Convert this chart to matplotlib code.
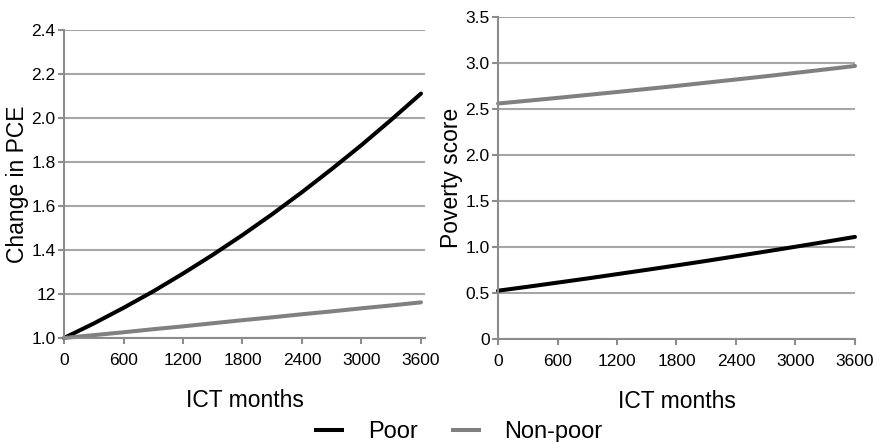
import matplotlib
matplotlib.use("Agg")
import matplotlib.pyplot as plt

plt.rcParams['font.family'] = ['Liberation Sans', 'DejaVu Sans']

months = [0, 300, 600, 900, 1200, 1500, 1800, 2100, 2400, 2700, 3000, 3300, 3600]

pce_poor = [1.0, 1.066, 1.137, 1.212, 1.293, 1.378, 1.468, 1.563, 1.663, 1.768, 1.877, 1.992, 2.111]
pce_nonpoor = [1.0, 1.013, 1.026, 1.04, 1.053, 1.067, 1.081, 1.094, 1.108, 1.121, 1.135, 1.148, 1.162]

pov_poor = [0.525, 0.568, 0.613, 0.658, 0.705, 0.752, 0.800, 0.849, 0.900, 0.951, 1.003, 1.056, 1.110]
pov_nonpoor = [2.56, 2.590, 2.621, 2.653, 2.685, 2.718, 2.751, 2.786, 2.821, 2.856, 2.893, 2.930, 2.968]

x_ticks = [0, 600, 1200, 1800, 2400, 3000, 3600]
left_yticks = [1.0, 1.2, 1.4, 1.6, 1.8, 2.0, 2.2, 2.4]
left_ylabels = ['1.0', '12', '1.4', '1.6', '1.8', '2.0', '2.2', '2.4']
right_yticks = [0, 0.5, 1.0, 1.5, 2.0, 2.5, 3.0, 3.5]
right_ylabels = ['0', '0.5', '1.0', '1.5', '2.0', '2.5', '3.0', '3.5']

GRID = '#a6a6a6'
SPINE = '#8c8c8c'
POOR_C = '#000000'
NONPOOR_C = '#808080'

fig = plt.figure(figsize=(8.78, 4.42), dpi=100)
ax1 = fig.add_axes([0.0729, 0.2353, 0.4111, 0.6968])
ax2 = fig.add_axes([0.5672, 0.2330, 0.4066, 0.7285])

def style(ax, yticks, ylabels, ylim, ylabel, xmax):
    ax.set_xlim(0, xmax)
    ax.set_ylim(*ylim)
    ax.set_xticks(x_ticks)
    ax.set_xticklabels([str(t) for t in x_ticks], fontsize=12.5)
    ax.set_yticks(yticks)
    ax.set_yticklabels(ylabels, fontsize=12.5)
    for s in ['top', 'right']:
        ax.spines[s].set_visible(False)
    for s in ['left', 'bottom']:
        ax.spines[s].set_color(SPINE)
        ax.spines[s].set_linewidth(1.5)
    ax.tick_params(axis='both', colors=SPINE, labelcolor='#000000', length=4, width=1.5)
    ax.tick_params(axis='x', pad=7)
    ax.tick_params(axis='y', pad=2)
    ax.yaxis.grid(True, color=GRID, linewidth=1.5)
    ax.set_axisbelow(True)
    ax.set_xlabel('ICT months', fontsize=16.5, labelpad=15)
    ax.set_ylabel(ylabel, fontsize=16.5, labelpad=2)

style(ax1, left_yticks, left_ylabels, (1.0, 2.4), 'Change in PCE', 3640)
style(ax2, right_yticks, right_ylabels, (0, 3.5), 'Poverty score', 3600)

lw = 2.9
l1, = ax1.plot(months, pce_poor, color=POOR_C, linewidth=lw, label='Poor', solid_capstyle='round', clip_on=False)
l2, = ax1.plot(months, pce_nonpoor, color=NONPOOR_C, linewidth=lw, label='Non-poor', solid_capstyle='round', clip_on=False)
ax2.plot(months, pov_poor, color=POOR_C, linewidth=lw, solid_capstyle='round', clip_on=False)
ax2.plot(months, pov_nonpoor, color=NONPOOR_C, linewidth=lw, solid_capstyle='round', clip_on=False)

leg = fig.legend(handles=[l1, l2], labels=['Poor', 'Non-poor'], loc='lower center',
                 bbox_to_anchor=(0.522, -0.05), ncol=2, frameon=False, fontsize=17,
                 handlelength=1.27, columnspacing=1.4, handletextpad=1.0)
for h in leg.legend_handles:
    h.set_solid_capstyle('butt')

fig.savefig('out.png', dpi=100)
